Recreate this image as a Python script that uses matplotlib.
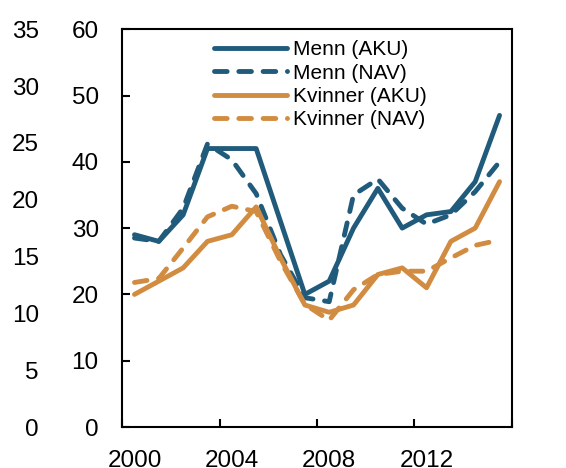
import matplotlib
matplotlib.use('Agg')
import matplotlib.pyplot as plt
from matplotlib.ticker import NullFormatter

plt.rcParams['font.family'] = ['Liberation Sans', 'DejaVu Sans']

# Data (annual, plotted mid-year)
years = [2000, 2001, 2002, 2003, 2004, 2005, 2006, 2007,
         2008, 2009, 2010, 2011, 2012, 2013, 2014, 2015]
menn_aku = [29, 28, 32, 42, 42, 42, 31, 20, 22, 30, 36, 30, 32, 32.5, 37, 47]
menn_nav = [28.5, 28, 33, 42.7, 40.3, 35.2, 26, 19.5, 18.9, 35, 37.4, 33, 30.6, 32, 35.5, 40]
kvinner_aku = [20, 22, 24, 28, 29, 33.2, 25.5, 18.4, 17.3, 18.4, 23, 24, 21, 28, 30, 37]
kvinner_nav = [21.8, 22.4, 27, 31.7, 33.3, 32.5, 25, 18.5, 16.1, 20.7, 23, 23.5, 23.5, 25.5, 27.4, 28.2]

labels = ['Menn (AKU)', 'Menn (NAV)', 'Kvinner (AKU)', 'Kvinner (NAV)']
blue = '#215B7C'
orange = '#D28C41'

x = [y + 0.5 for y in years]

fig = plt.figure(figsize=(5.66, 4.68), dpi=100)
ax = fig.add_axes([0.2161, 0.0876, 0.688, 0.850])

lw = 3.5
ax.plot(x, menn_aku, color=blue, lw=lw, solid_capstyle='round', solid_joinstyle='round', label=labels[0])
l2, = ax.plot(x, menn_nav, color=blue, lw=lw, dash_capstyle='round', label=labels[1])
ax.plot(x, kvinner_aku, color=orange, lw=lw, solid_capstyle='round', solid_joinstyle='round', label=labels[2])
l4, = ax.plot(x, kvinner_nav, color=orange, lw=lw, dash_capstyle='round', label=labels[3])
l2.set_dashes((2.6, 2.4))
l4.set_dashes((2.6, 2.4))

ax.set_xlim(2000, 2016)
ax.set_ylim(0, 60)
ax.set_yticks(range(0, 61, 10))

# x ticks at year boundaries, labels centred mid-year
ax.set_xticks([2000, 2004, 2008, 2012, 2016])
ax.xaxis.set_major_formatter(NullFormatter())
ax.set_xticks([2000.5, 2004.5, 2008.5, 2012.5], minor=True)
ax.set_xticklabels(['2000', '2004', '2008', '2012'], minor=True)
ax.tick_params(axis='x', which='major', direction='in', length=6, width=1.5)
ax.tick_params(axis='x', which='minor', length=0, pad=16.5, labelsize=17.5)

ax.tick_params(axis='y', direction='in', length=6, width=1.5, labelsize=17.5,
               left=True, right=True, labelleft=True, labelright=True)
ax.tick_params(axis='y', which='major', pad=17)

for s in ax.spines.values():
    s.set_linewidth(1.5)

# outer left axis 0-35
ax2 = ax.twinx()
ax2.set_ylim(0, 35)
ax2.set_yticks(range(0, 36, 5))
ax2.yaxis.set_ticks_position('left')
ax2.tick_params(axis='y', length=0, pad=60, labelsize=17.5, labelleft=True, labelright=False)
for s in ax2.spines.values():
    s.set_visible(False)

leg = ax.legend(loc='upper left', bbox_to_anchor=(0.235, 0.972), frameon=False,
                fontsize=15, handlelength=3.5, handletextpad=0.3, labelspacing=0.21,
                borderpad=0, borderaxespad=0)

fig.savefig('out.png', dpi=100)
